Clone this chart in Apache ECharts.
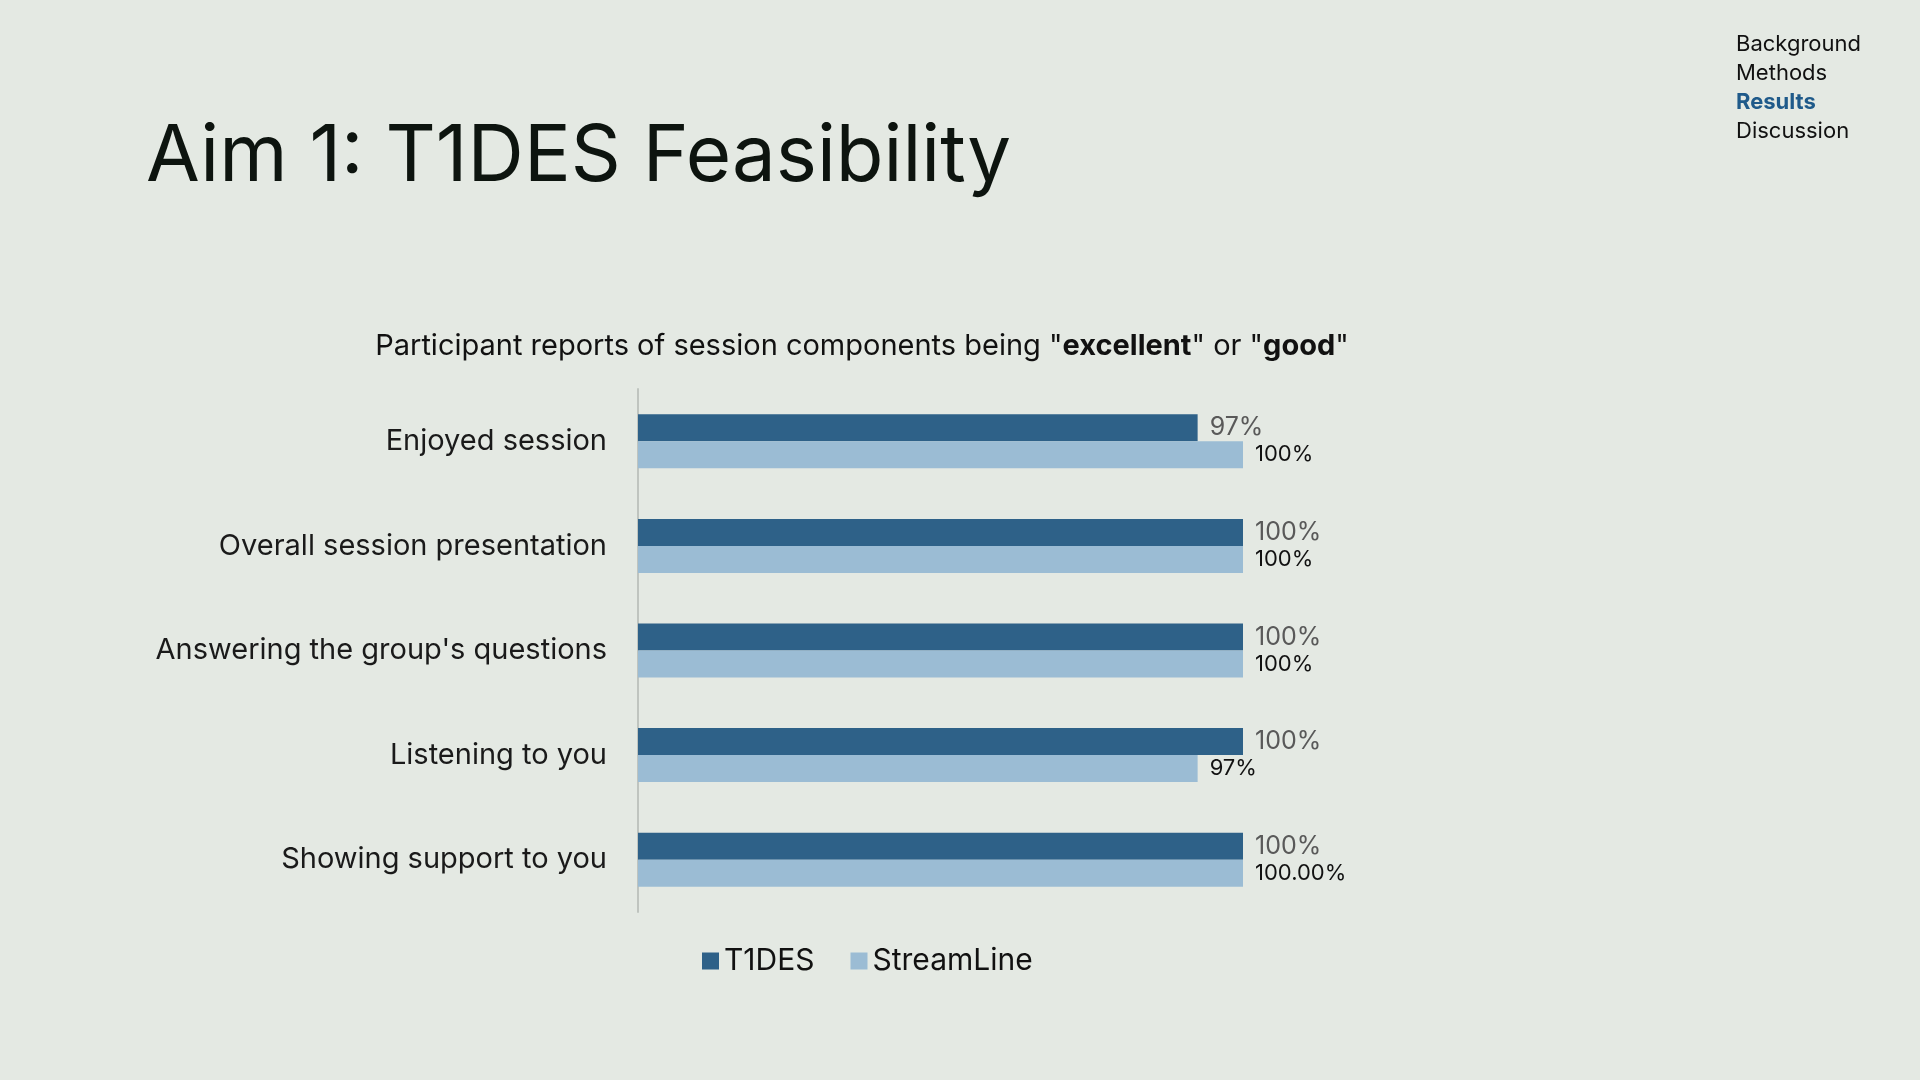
<!DOCTYPE html>
<html>
<head>
<meta charset="utf-8">
<title>Aim 1: T1DES Feasibility</title>
<script src="https://cdn.jsdelivr.net/npm/echarts@6/dist/echarts.min.js"></script>
<style>
    html, body { margin: 0; padding: 0; background: #E4E9E3; }
    #chart { width: 1920px; height: 1080px; }
</style>
</head>
<body>
<div id="chart"></div>
<script>
// data
var categories = ['Enjoyed session', 'Overall session presentation', "Answering the group's questions", 'Listening to you', 'Showing support to you'];
var t1desValues = [97, 100, 100, 100, 100];
var streamValues = [100, 100, 100, 97, 100];
var t1desLabels = ['97%', '100%', '100%', '100%', '100%'];
var streamLabels = ['100%', '100%', '100%', '97%', '100.00%'];
var navItems = ['Background', 'Methods', 'Results', 'Discussion'];

var FONT = 'Inter, "Noto Sans", sans-serif';

var dom = document.getElementById('chart');
var myChart = echarts.init(dom);

var navGraphics = navItems.map(function (name, i) {
    var active = name === 'Results';
    return {
        type: 'text',
        left: 1736,
        top: 33 + i * 29,
        style: {
            text: name,
            font: (active ? 'bold ' : '') + '22px ' + FONT,
            fill: active ? '#1F5A8A' : '#111111'
        }
    };
});

var option = {
    backgroundColor: '#E4E9E3',
    textStyle: { fontFamily: FONT },
    title: {
        text: 'Participant reports of session components being "{b|excellent}" or "{b|good}"',
        left: 857,
        top: 327,
        textAlign: 'center',
        textStyle: {
            fontSize: 29,
            fontWeight: 'normal',
            color: '#111111',
            rich: {
                b: { fontSize: 29, fontWeight: 'bold', color: '#111111' }
            }
        }
    },
    graphic: [
        {
            type: 'text',
            left: 146,
            top: 119,
            style: {
                text: 'Aim 1: T1DES Feasibility',
                font: '78px ' + FONT,
                fill: '#0d140f'
            }
        }
    ].concat(navGraphics),
    legend: {
        left: 697,
        top: 941,
        itemWidth: 17,
        itemHeight: 17,
        itemGap: 36,
        icon: 'rect',
        textStyle: { fontSize: 30, color: '#111111' },
        data: ['T1DES', 'StreamLine']
    },
    grid: {
        left: 638,
        top: 389,
        width: 605,
        height: 523
    },
    xAxis: {
        type: 'value',
        min: 60,
        max: 100,
        show: false
    },
    yAxis: {
        type: 'category',
        inverse: true,
        data: categories,
        axisLine: { show: true, lineStyle: { color: '#BFC4BF', width: 2 } },
        axisTick: { show: false },
        axisLabel: { fontSize: 29, color: '#1a1a1a', margin: 31 }
    },
    series: [
        {
            name: 'T1DES',
            type: 'bar',
            data: t1desValues,
            barWidth: 27,
            barGap: '0%',
            itemStyle: { color: '#2E6188' },
            label: {
                show: true,
                position: 'right',
                distance: 12,
                fontSize: 25,
                color: '#595959',
                formatter: function (p) { return t1desLabels[p.dataIndex]; }
            }
        },
        {
            name: 'StreamLine',
            type: 'bar',
            data: streamValues,
            barWidth: 27,
            barGap: '0%',
            itemStyle: { color: '#9BBCD4' },
            label: {
                show: true,
                position: 'right',
                distance: 12,
                fontSize: 22,
                color: '#111111',
                formatter: function (p) { return streamLabels[p.dataIndex]; }
            }
        }
    ]
};

if (option && typeof option === 'object') {
    myChart.setOption(option);
}
</script>
</body>
</html>
